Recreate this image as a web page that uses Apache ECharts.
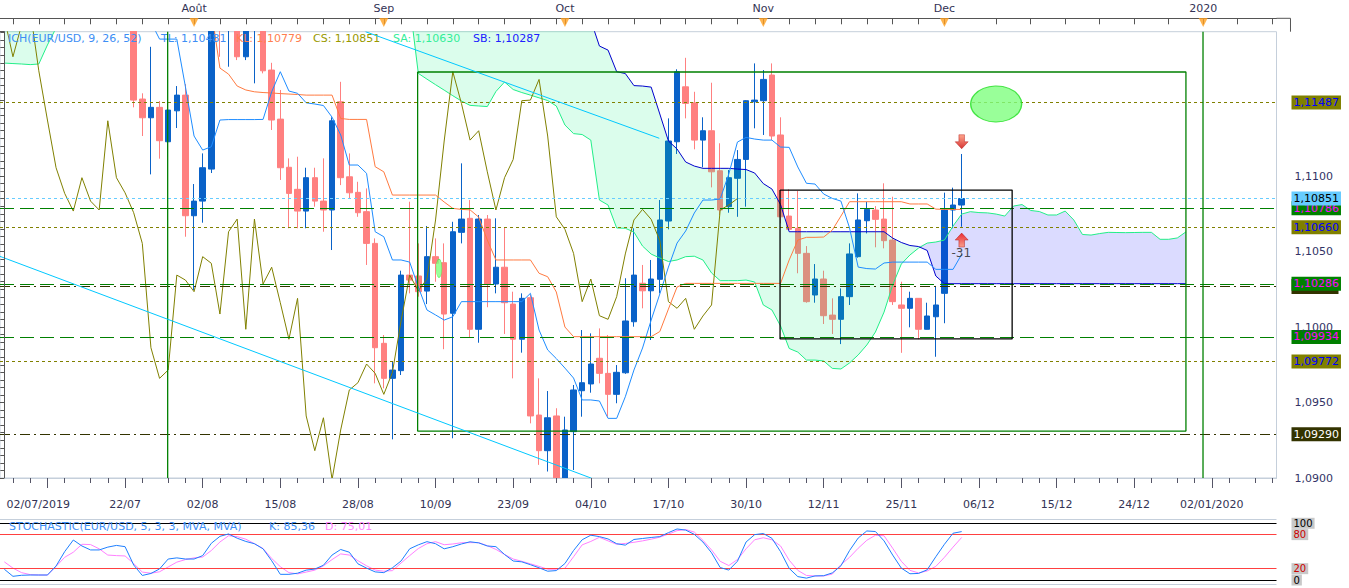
<!DOCTYPE html>
<html><head><meta charset="utf-8">
<script src="https://cdn.jsdelivr.net/npm/echarts@6/dist/echarts.min.js"></script>
<style>html,body{margin:0;padding:0;background:#fff}#c{width:1349px;height:588px}</style>
</head><body><div id="c"></div>
<script>
// ---------- axis categories & labels ----------
const N = 148;
function pad(n){return (n<10?'0':'')+n;}
const categories = (function(){
  const out=[]; let t=Date.UTC(2019,6,2); const lastTrading=Date.UTC(2019,11,6);
  while(out.length<N){
    const d=new Date(t), dow=d.getUTCDay();
    if(t>lastTrading || (dow!==0 && dow!==6)) out.push(pad(d.getUTCDate())+'/'+pad(d.getUTCMonth()+1)+'/'+d.getUTCFullYear());
    t+=86400000;
  }
  return out;
})();
const tickLabels = [[0,'02/07/2019'],[14,'22/07'],[23,'02/08'],[32,'15/08'],[41,'28/08'],[50,'10/09'],[59,'23/09'],[68,'04/10'],[77,'17/10'],[86,'30/10'],[95,'12/11'],[104,'25/11'],[113,'06/12'],[122,'15/12'],[131,'24/12'],[140,'02/01/2020']];
const monthLabels = [[22,'Août'],[44,'Sep'],[65,'Oct'],[88,'Nov'],[109,'Dec'],[139,'2020']];
const priceTicks = [1.0900,1.0950,1.1000,1.1050,1.1100];

// ---------- candles (index 15 .. 111) ----------
const candleStart = 15;
const opens = [1.1205,1.1151,1.11386,1.11455,1.11227,1.11432,1.11536,1.10737,1.10834,1.11046,1.1210,1.1200,1.1205,1.1179,1.1200,1.1205,1.11702,1.11377,1.11058,1.10912,1.10768,1.10989,1.10834,1.10775,1.11492,1.10995,1.10892,1.10764,1.10554,1.09892,1.0966,1.09711,1.10344,1.10338,1.10238,1.10466,1.10426,1.10091,1.10627,1.1072,1.09985,1.10715,1.10285,1.10396,1.10152,1.09919,1.10194,1.09417,1.09181,1.09411,1.0899,1.09307,1.09578,1.09623,1.09793,1.09693,1.09554,1.09697,1.10035,1.1029,1.1024,1.10316,1.10702,1.11227,1.11591,1.11485,1.11238,1.113,1.11035,1.10797,1.10985,1.1111,1.11492,1.11499,1.11669,1.11272,1.10735,1.10654,1.10488,1.10212,1.10318,1.10079,1.10051,1.10201,1.10466,1.10704,1.10775,1.10715,1.10576,1.10146,1.10124,1.1019,1.09985,1.10068,1.10223,1.10775,1.10808];
const highs = [1.1215,1.11548,1.11856,1.11497,1.115,1.11596,1.11609,1.10947,1.1115,1.1215,1.1225,1.1215,1.1215,1.121,1.1215,1.1215,1.1175,1.1157,1.11117,1.11128,1.11055,1.11055,1.11117,1.11389,1.11624,1.1115,1.10962,1.10918,1.10587,1.09947,1.0977,1.10373,1.1083,1.10554,1.10669,1.10587,1.10554,1.10697,1.11084,1.10841,1.10742,1.10742,1.1072,1.1066,1.10234,1.10223,1.10212,1.0966,1.09576,1.09462,1.09406,1.09616,1.0998,1.09958,1.09991,1.09947,1.09748,1.10323,1.10654,1.10411,1.10444,1.10841,1.11382,1.11707,1.11783,1.11558,1.11389,1.11618,1.11217,1.1104,1.11172,1.11503,1.11746,1.11702,1.11746,1.11389,1.10912,1.10901,1.10536,1.10417,1.10373,1.1019,1.10256,1.10554,1.10885,1.1083,1.10801,1.10952,1.10863,1.103,1.10234,1.10192,1.10161,1.10272,1.1089,1.10923,1.11146];
const lows = [1.11455,1.11265,1.11011,1.11115,1.11128,1.11318,1.10598,1.10245,1.10691,1.1102,1.1179,1.11724,1.11768,1.11768,1.11614,1.1168,1.11305,1.10974,1.10654,1.10654,1.10654,1.10797,1.10631,1.1051,1.1094,1.10852,1.1073,1.10411,1.09627,1.09594,1.09256,1.09682,1.10223,1.10201,1.10152,1.103,1.09853,1.09263,1.10554,1.09932,1.09896,1.10131,1.10223,1.09954,1.0966,1.0983,1.09362,1.09087,1.09043,1.0880,1.0887,1.09053,1.09406,1.09565,1.09627,1.09406,1.09495,1.0969,1.10002,1.10124,1.09914,1.10223,1.10647,1.11146,1.11382,1.11177,1.11058,1.10925,1.10742,1.10757,1.1073,1.10797,1.11316,1.11272,1.11238,1.10687,1.10642,1.10356,1.10161,1.10161,1.1002,1.09954,1.09887,1.10146,1.10459,1.1062,1.10528,1.10521,1.10146,1.09829,1.09998,1.09919,1.09984,1.09803,1.10025,1.10654,1.10664];
const closes = [1.11503,1.11386,1.11455,1.11234,1.11437,1.11536,1.10737,1.10834,1.11055,1.1205,1.12,1.1205,1.1179,1.12,1.121,1.11697,1.11371,1.11055,1.10885,1.10768,1.10989,1.10834,1.10775,1.11366,1.10989,1.10889,1.10757,1.10554,1.09863,1.0966,1.09715,1.10344,1.10311,1.10234,1.10466,1.10422,1.10086,1.10631,1.10715,1.09985,1.10715,1.10285,1.10396,1.10161,1.09919,1.1019,1.09411,1.09181,1.09399,1.0899,1.09318,1.09583,1.09631,1.09755,1.09693,1.09554,1.097,1.1004,1.10344,1.1024,1.10318,1.10709,1.11232,1.11691,1.11481,1.11238,1.113,1.11028,1.10775,1.10989,1.1111,1.11499,1.11503,1.1164,1.11265,1.1073,1.10647,1.10488,1.10168,1.10318,1.10075,1.10051,1.10201,1.10484,1.10709,1.10779,1.10713,1.10572,1.10168,1.10124,1.1019,1.09985,1.10073,1.10146,1.10775,1.10808,1.10851];

// ---------- Ichimoku lines ----------
const tenkan = [null,null,null,null,null,null,null,null,null,null,
 null,null,null,null,null,null,null,
 1.1202,1.11907,1.11907,1.11907,1.11591,1.11265,1.11172,1.11194,1.11371,1.11374,1.11374,1.11374,1.11374,1.11375,
 1.11558,1.11691,1.11563,1.11548,1.11485,1.11477,1.11467,1.1139,1.11272,1.11073,
 1.11073,1.11018,1.10631,1.10598,1.10444,1.10444,1.1043,1.10265,1.10113,1.1008,
 1.10046,1.10068,1.10168,1.10168,1.10168,1.10168,1.10168,1.10168,1.10168,1.10168,
 1.10223,1.0998,1.09848,1.09791,1.09728,1.09662,1.09517,1.09517,1.0951,1.09395,
 1.09395,1.09538,1.09715,1.09861,1.10046,1.10219,1.10397,1.10556,1.10636,1.10755,
 1.10841,1.10841,1.10848,1.11013,1.11225,1.11256,1.11245,1.11238,1.11238,1.11192,
 1.1119,1.1106,1.10952,1.10947,1.10881,1.10852,1.10834,1.10656,1.10397,1.10387,
 1.10384,1.10424,1.1043,1.1043,1.1043,1.1043,1.1043,1.10382,1.10382,1.10382,1.10481];
const kijun = [null,null,null,null,null,null,null,null,null,null,
 null,null,null,null,null,null,null,null,null,null,
 null,null,null,null,
 1.121,1.11715,1.11675,1.11596,1.1157,1.11558,1.11553,1.1155,1.11546,1.11543,
 1.1154,1.11536,1.11536,1.11536,1.11536,1.11381,1.11375,1.11375,1.11375,1.11062,
 1.11028,1.10874,1.10874,1.10874,1.10874,1.10874,1.10874,1.10828,1.10786,1.10779,
 1.10776,1.10728,1.10576,1.10444,1.10444,1.10444,1.10444,1.10444,1.10356,1.10333,
 1.10232,1.1,1.09936,1.09936,1.09936,1.09936,1.09936,1.09936,1.09936,1.09936,
 1.09936,1.09936,1.0997,1.10119,1.10265,1.10289,1.10289,1.10289,1.10289,1.10289,
 1.10289,1.10289,1.10289,1.10289,1.10289,1.10289,1.10289,1.10444,1.10576,1.10594,
 1.10594,1.10596,1.10642,1.10735,1.1083,1.1083,1.1083,1.1083,1.1083,1.1083,
 1.1083,1.10815,1.10815,1.10815,1.10781,1.10779,1.10779,1.10779];
const senkouA = [1.11748,1.11745,1.11742,1.11738,1.11742,1.11868,1.1198,
 1.1212,1.1212,1.1212,1.1212,1.1212,1.1212,1.1212,1.1212,1.1212,1.1212,
 1.1212,1.1212,1.1212,1.1212,1.1212,1.1212,1.1212,1.1212,1.1212,1.1212,
 1.1212,1.1212,1.1212,1.1212,1.1212,1.1212,1.1212,1.1212,1.1212,1.1212,
 1.1212,1.1212,1.1212,1.1212,1.1212,1.1212,1.1212,1.1212,1.1212,1.1212,
 1.12143,1.1168,1.11642,1.11605,1.11569,1.11532,1.11497,1.11468,1.11464,1.1146,
 1.1156,1.11623,1.11573,1.11553,1.11536,1.11518,1.115,1.11464,1.11338,1.11281,
 1.11275,1.11238,1.10841,1.10808,1.10656,1.10654,1.10629,1.10536,1.10483,1.10457,
 1.10434,1.10444,1.10466,1.10469,1.10444,1.10358,1.10307,1.10307,1.10307,1.10311,
 1.10298,1.10146,1.10113,1.10007,1.09858,1.09834,1.09781,1.09781,1.09775,1.09726,
 1.09722,1.09762,1.09815,1.09881,1.09967,1.10099,1.10278,1.10417,1.10477,1.10523,
 1.10556,1.10563,1.10576,1.10669,1.10748,1.10764,1.10758,1.10756,1.10748,1.10735,
 1.10801,1.10811,1.10772,1.10765,1.10742,1.10742,1.10768,1.10709,1.10613,1.10609,
 1.10619,1.10627,1.10626,1.10625,1.10626,1.10627,1.10627,1.10581,1.10581,1.1059,1.1063];
const senkouB = [1.1235,1.1235,1.1235,1.1235,1.1235,1.1235,1.1235,1.1235,1.1235,1.1235,
 1.1235,1.1235,1.1235,1.1235,1.1235,1.1235,1.1235,1.1235,1.1235,1.1235,
 1.1235,1.1235,1.1235,1.1235,1.1235,1.1235,1.1235,1.1235,1.1235,1.1235,
 1.1235,1.1235,1.1235,1.1235,1.1235,1.1235,1.1235,1.1235,1.1235,1.1235,
 1.1235,1.1235,1.1235,1.1235,1.1235,1.1235,1.1235,1.1235,1.1235,1.1235,
 1.1235,1.1235,1.1235,1.1235,1.1235,1.1235,1.1235,1.1235,1.1235,1.1235,
 1.1235,1.1235,1.1235,1.1235,1.1235,1.1235,1.1235,1.1235,
 1.12032,1.11861,1.11834,1.11691,1.11679,1.11599,1.11596,1.11589,1.11411,1.11232,
 1.11179,1.11093,1.11066,1.11051,1.11051,1.11051,1.11051,1.11046,1.11043,1.1102,
 1.1095,1.10914,1.10811,
 1.10631,1.10631,1.10631,1.10631,1.10631,1.10631,1.10631,1.10631,1.10631,1.10631,
 1.10631,1.10631,1.10589,1.1056,1.1054,1.10533,1.10507,1.10338,
 1.10287,1.10287,1.10287,1.10287,1.10287,1.10287,1.10287,1.10287,1.10287,1.10287,
 1.10287,1.10287,1.10287,1.10287,1.10287,1.10287,1.10287,1.10287,1.10287,1.10287,
 1.10287,1.10287,1.10287,1.10287,1.10287,1.10287,1.10287,1.10287,1.10287];
const chikouShift = 26;

// ---------- stochastic ----------
const stochK = [19,6.5,8.3,8.8,8.8,8.8,24.6,50,70.5,60,53,53,58,61,58.8,26.5,8,11.5,19.5,37,39,37,37,43,64.7,77,81.2,73.7,68,64,55,34,10,10,12,17.4,19.3,26,44,53.8,49,28.5,21,14.3,13,21.5,33.5,55,62,67.6,64,55,58.7,63.5,67.4,65.5,60,58.8,45,33.5,32,27,21.5,15.5,16.6,29,52,71,79,76.5,72.4,64,61.5,71.5,73.2,75,76.5,83.5,90,88,80.5,67,48,22,17.5,33,67,80,82,73.5,50,20.5,6,3.3,7.2,7.6,12.5,25,52,74,86.5,85.5,69,44,21,11,11.6,18,41,63,82.5,85.36];
const stochD = [32,21,13,9.5,8.8,8.8,24,40,49,63,62.5,55,44,43,42.4,29,14,12,14.5,23,31.5,36,39,40.5,52,67,78,76.5,72,64,55.5,38,23.5,13,10.8,14,17.4,25,36,46,44,34,25,17.5,15.5,16.5,30,43,55.5,64,67.6,62.2,63.5,65.7,65.9,65.9,60.5,54,45,37,33,28.5,24,19,19,20.6,41,62,68,75.3,69,63,64.5,66.5,69,72,75.5,81,87,89,84.5,70,53,33,25.5,36,55,71,74.5,71,60,35,17,8,7.1,7.1,10.5,27,40,56,70,79,78,56,33,17,12.5,16,24,40,58,75.01];
const stochLevels = [100,80,20,0];

// ---------- drawn objects (x in bar index units, y in price) ----------
const levelValues = [1.11487,1.10786,1.10851,1.10660,1.10268,1.10286,1.09934,1.09772,1.09290];
const levelKinds  = ['olive','green','cur','olive','dark','green','green','olive','dark'];
const levelHiddenTag = [false,false,false,false,true,false,false,false,false];
const greenBox = [[47.92,1.11689],[137.0,1.09311]];
const blackBox = [[89.94,1.10907],[116.85,1.09921]];
const vLines = [18.94,138.98];
const trend1 = [[-0.5,1.10468],[68.1,1.08998]];
const trend2 = [[41.88,1.11956],[75.94,1.1125]];
const ellipseBig = [115.0,1.11477];
const ellipseSmall = [50.4,1.10389];
const arrowDown = [111,1.11227];
const arrowUp = [111,1.10576];
const signalText = [110.96,1.1049,'-31'];

// ---------- build ----------
const FONT = 'DejaVu Sans';
const YMIN = 1.09, YMAX = 1.11956;
const P = 8.661, GL = -5.33, GW = N*P;
const GTOP = 31.7, GH = 446.3, GRIGHT = GL + GW;
const candleData = categories.map((c,i)=>{
  const k=i-candleStart;
  if(k<0||k>=opens.length) return '-';
  return [opens[k],closes[k],lows[k],highs[k]];
});
const chikou = categories.map((c,i)=>{const k=i+chikouShift-candleStart; return (k>=0&&k<closes.length)?closes[k]:null;});
const pick=(arr)=>categories.map((c,i)=> (arr[i]===undefined||arr[i]===null)?'-':arr[i]);
const cloudBase=[],cloudGreen=[],cloudPurple=[];
for(let i=0;i<N;i++){
  if(i<senkouA.length){const a=senkouA[i],b=senkouB[i];cloudBase.push(Math.min(a,b));cloudGreen.push(Math.max(b-a,0));cloudPurple.push(Math.max(a-b,0));}
  else{cloudBase.push('-');cloudGreen.push('-');cloudPurple.push('-');}
}
const labelMap=new Map(tickLabels), monthMap=new Map(monthLabels);
const mod9=(i)=>((i-5)%9+9)%9;
const topTicks=new Set(monthLabels.map(m=>m[0]));
for(let i=0;i<N;i++){ if(i<=111 && i%3===1) topTicks.add(i); if(i>111 && i%4===3) topTicks.add(i); }
const fmt5=(v)=>v.toFixed(5).replace('.',',');
const levelStyle={
  olive:{c:'#808000',t:[3,3],bg:'#808000',fg:'#0000ff'},
  cur:{c:'#66ccff',t:[3,3],bg:'#66ccff',fg:'#000000'},
  green:{c:'#008000',t:[14,6],bg:'#008000',fg:'#ff00ff'},
  dark:{c:'#333300',t:[10,4,2,4],bg:'#333300',fg:'#ffffff'}
};
const levelData=levelValues.map((v,k)=>{const s=levelStyle[levelKinds[k]];
  const label = levelHiddenTag[k]
    ? {show:true,position:'end',distance:15,formatter:'{s|}',rich:{s:{width:47,height:15,backgroundColor:s.bg}},padding:0}
    : {show:true,position:'end',distance:15,formatter:fmt5(v),color:s.fg,backgroundColor:s.bg,padding:[2,2,1,2],fontSize:11,fontFamily:FONT};
  return {yAxis:v,lineStyle:{color:s.c,type:s.t,width:1},label:label};});
const rectPts=(b)=>{const [[x1,y1],[x2,y2]]=b;return [[x1,y1],[x2,y1],[x2,y2],[x1,y2],[x1,y1]];};
const lineS=(data,color,extra)=>Object.assign({type:'line',xAxisIndex:1,yAxisIndex:0,data:data,symbol:'none',silent:true,z:6,clip:true,
  lineStyle:{color:color,width:1}},extra||{});
const stochLevelStyle={100:{c:'#000000',fg:'#000000'},80:{c:'#ff4040',fg:'#cc0000'},20:{c:'#ff4040',fg:'#cc0000'},0:{c:'#000000',fg:'#000000'}};
const lineBase={type:'line',xAxisIndex:0,yAxisIndex:0,symbol:'none',silent:true,clip:true};

const option={
  animation:false,
  backgroundColor:'#ffffff',
  textStyle:{fontFamily:FONT},
  // white masks hide the parts of candle boxes that lie outside the price pane
  graphic:[
    {type:'rect',silent:true,z:5,shape:{x:-10,y:0,width:GRIGHT+10,height:GTOP-0.6},style:{fill:'#ffffff'}},
    {type:'rect',silent:true,z:5,shape:{x:-10,y:GTOP+GH+0.6,width:GRIGHT+10,height:40},style:{fill:'#ffffff'}},
    {type:'polyline',silent:true,z:11,shape:{points:[[GRIGHT,GTOP-13.4],[GRIGHT+14,GTOP-13.4],[GRIGHT+14,GTOP]]},style:{stroke:'#555555',lineWidth:1,fill:null}}
  ],
  title:[
    {text:'ICH(EUR/USD, 9, 26, 52)',left:8,top:33,padding:0,textStyle:{color:'#3d8ef5',fontSize:11,fontWeight:'normal',fontFamily:FONT}},
    {text:'TL: 1,10481',left:161,top:33,padding:0,textStyle:{color:'#3d8ef5',fontSize:11,fontWeight:'normal',fontFamily:FONT}},
    {text:'KL: 1,10779',left:236,top:33,padding:0,textStyle:{color:'#ff7f50',fontSize:11,fontWeight:'normal',fontFamily:FONT}},
    {text:'CS: 1,10851',left:313,top:33,padding:0,textStyle:{color:'#999900',fontSize:11,fontWeight:'normal',fontFamily:FONT}},
    {text:'SA: 1,10630',left:393,top:33,padding:0,textStyle:{color:'#33ee99',fontSize:11,fontWeight:'normal',fontFamily:FONT}},
    {text:'SB: 1,10287',left:473,top:33,padding:0,textStyle:{color:'#2020ff',fontSize:11,fontWeight:'normal',fontFamily:FONT}},
    {text:'STOCHASTIC(EUR/USD, 5, 3, 3, MVA, MVA)',left:9,top:521,padding:0,textStyle:{color:'#3d8ef5',fontSize:11,fontWeight:'normal',fontFamily:FONT}},
    {text:'K: 85,36',left:269,top:521,padding:0,textStyle:{color:'#3d8ef5',fontSize:11,fontWeight:'normal',fontFamily:FONT}},
    {text:'D: 75,01',left:325,top:521,padding:0,textStyle:{color:'#ff88ff',fontSize:11,fontWeight:'normal',fontFamily:FONT}}
  ],
  grid:[
    {left:GL,width:GW,top:GTOP,height:GH,show:true,borderColor:'#c5cfdb',borderWidth:1,backgroundColor:'#ffffff'},
    {left:GL,width:GW,top:519.5,height:64.5,show:false},
    {left:GL,width:GW,top:18.5,height:13.2,show:false}
  ],
  xAxis:[
    {type:'category',gridIndex:0,data:categories,position:'bottom',z:10,
      axisLine:{show:true,onZero:false,lineStyle:{color:'#c5cfdb'}},
      axisTick:{show:true,alignWithLabel:true,length:10,interval:(i)=>i>=5&&mod9(i)===0,lineStyle:{color:'#555566'}},
      axisLabel:{show:true,interval:(i)=>labelMap.has(i),formatter:(v,i)=> i===0?'{f|'+labelMap.get(i)+'}':labelMap.get(i),margin:21,color:'#333355',fontSize:11,fontFamily:FONT,
        rich:{f:{padding:[0,0,0,68],color:'#333355',fontSize:11,fontFamily:FONT}}},
      splitLine:{show:false}},
    {type:'value',gridIndex:0,min:-0.5,max:N-0.5,show:false},
    {type:'category',gridIndex:0,data:categories,position:'top',offset:13.4,z:10,
      axisLine:{show:true,onZero:false,lineStyle:{color:'#555555'}},
      axisTick:{show:true,inside:true,alignWithLabel:true,length:6,interval:(i)=>topTicks.has(i),lineStyle:{color:'#555555'}},
      axisLabel:{show:true,interval:(i)=>monthMap.has(i),formatter:(v,i)=>monthMap.get(i),margin:4,color:'#333355',fontSize:11,fontFamily:FONT},
      splitLine:{show:false}},
    {type:'category',gridIndex:0,data:categories,position:'bottom',z:10,
      axisLine:{show:false,onZero:false},
      axisTick:{show:true,alignWithLabel:true,length:5,interval:(i)=>[2,5,7].indexOf(mod9(i))>=0,lineStyle:{color:'#555566'}},
      axisLabel:{show:false},splitLine:{show:false}},
    {type:'category',gridIndex:2,data:categories,show:false},
    {type:'category',gridIndex:1,data:categories,show:false}
  ],
  yAxis:[
    {type:'value',gridIndex:0,position:'right',offset:14,min:YMIN,max:YMAX,interval:0.005,scale:true,z:10,
      axisLine:{show:true,lineStyle:{color:'#555555'}},
      axisTick:{show:true,inside:true,length:14,lineStyle:{color:'#555555'}},
      minorTick:{show:true,splitNumber:10,length:4,lineStyle:{color:'#555555'}},
      axisLabel:{show:true,margin:4,color:'#333366',fontSize:11,fontFamily:FONT,showMaxLabel:false,
        formatter:(v)=>{for(const t of priceTicks){if(Math.abs(v-t)<1e-7) return t.toFixed(4).replace('.',',');} return '';}},
      splitLine:{show:false},minorSplitLine:{show:false}},
    {type:'value',gridIndex:2,min:0,max:1,show:false},
    {type:'value',gridIndex:1,min:-7.05,max:106.7,show:false}
  ],
  series:[
    {type:'candlestick',xAxisIndex:0,yAxisIndex:0,data:candleData,barWidth:6,z:2,silent:true,clip:true,
      itemStyle:{color:'#0a62c8',color0:'#ff8080',borderColor:'#0a62c8',borderColor0:'#ff8080',borderWidth:1}},
    Object.assign({},lineBase,{data:cloudBase,stack:'cloud',z:3,lineStyle:{opacity:0}}),
    Object.assign({},lineBase,{data:cloudGreen,stack:'cloud',z:3,lineStyle:{opacity:0},areaStyle:{color:'rgba(0,240,120,0.2)'}}),
    Object.assign({},lineBase,{data:cloudPurple,stack:'cloud',z:3,lineStyle:{opacity:0},areaStyle:{color:'rgba(0,0,255,0.2)'}}),
    Object.assign({},lineBase,{data:pick(senkouA),z:4,lineStyle:{color:'#22ee88',width:1}}),
    Object.assign({},lineBase,{data:pick(senkouB),z:4,lineStyle:{color:'#0000cc',width:1}}),
    Object.assign({},lineBase,{data:pick(chikou),z:4,lineStyle:{color:'#808000',width:1}}),
    Object.assign({},lineBase,{data:pick(kijun),z:4,lineStyle:{color:'#ff7a40',width:1}}),
    Object.assign({},lineBase,{data:pick(tenkan),z:4,lineStyle:{color:'#1e8cff',width:1}}),
    // horizontal levels with price tags
    {type:'line',xAxisIndex:1,yAxisIndex:0,data:[],silent:true,z:6,
      markLine:{silent:true,symbol:['none','none'],animation:false,precision:6,data:levelData}},
    lineS(rectPts(greenBox),'#008000',{lineStyle:{color:'#008000',width:1.3}}),
    lineS(rectPts(blackBox),'#000000',{lineStyle:{color:'#000000',width:1.3}}),
    lineS([[vLines[0],YMIN],[vLines[0],YMAX]],'#008000',{lineStyle:{color:'#008000',width:1.3}}),
    lineS([[vLines[1],YMIN],[vLines[1],YMAX]],'#008000',{lineStyle:{color:'#008000',width:1.3}}),
    lineS(trend1,'#00c8ff'),
    lineS(trend2,'#00c8ff'),
    {type:'scatter',xAxisIndex:1,yAxisIndex:0,silent:true,z:7,data:[ellipseBig],symbol:'circle',symbolSize:[51,36],
      itemStyle:{color:'#80ff80',borderColor:'#22dd22',borderWidth:1.2}},
    {type:'scatter',xAxisIndex:1,yAxisIndex:0,silent:true,z:7,data:[ellipseSmall],symbol:'circle',symbolSize:[6,18],
      itemStyle:{color:'#80ff80',borderColor:'#44ee44',borderWidth:0.6}},
    {type:'scatter',xAxisIndex:1,yAxisIndex:0,silent:true,z:7,data:[arrowDown],symbol:'path://M4,0 L10,0 L10,7 L14,7 L7,14 L0,7 L4,7 Z',symbolSize:[13,14],
      itemStyle:{color:new echarts.graphic.LinearGradient(0,0,0,1,[{offset:0,color:'#ff9070'},{offset:1,color:'#cc0000'}]),borderColor:'#aa0000',borderWidth:0.5}},
    {type:'scatter',xAxisIndex:1,yAxisIndex:0,silent:true,z:7,data:[arrowUp],symbol:'path://M7,0 L14,7 L10,7 L10,14 L4,14 L4,7 L0,7 Z',symbolSize:[13,14],
      itemStyle:{color:new echarts.graphic.LinearGradient(0,0,0,1,[{offset:0,color:'#ee0000'},{offset:1,color:'#ff9070'}]),borderColor:'#aa0000',borderWidth:0.5}},
    {type:'scatter',xAxisIndex:1,yAxisIndex:0,silent:true,z:7,data:[[signalText[0],signalText[1]]],symbolSize:0,
      label:{show:true,position:'inside',formatter:signalText[2],color:'#222222',fontSize:12,fontFamily:FONT}},
    // month triangles on top axis
    {type:'scatter',xAxisIndex:4,yAxisIndex:1,silent:true,z:12,data:monthLabels.map(m=>[m[0],0.7]),symbol:'triangle',symbolRotate:180,symbolSize:[9,9],
      itemStyle:{color:'#ffa020'}},
    // stochastic
    {type:'line',xAxisIndex:5,yAxisIndex:2,data:stochD,symbol:'none',silent:true,z:4,lineStyle:{color:'#ff80ff',width:1}},
    {type:'line',xAxisIndex:5,yAxisIndex:2,data:stochK,symbol:'none',silent:true,z:5,lineStyle:{color:'#1e7fff',width:1},
      markLine:{silent:true,symbol:['none','none'],animation:false,precision:3,
        data:stochLevels.map(v=>({yAxis:v,lineStyle:{color:stochLevelStyle[v].c,type:'solid',width:1.2},
          label:{show:true,position:'end',distance:15,formatter:String(v),color:stochLevelStyle[v].fg,backgroundColor:'#c8c8c8',padding:[1,2,0,2],fontSize:10,fontFamily:FONT}}))}},
    {type:'line',xAxisIndex:5,yAxisIndex:2,data:[],silent:true,
      markLine:{silent:true,symbol:['none','none'],animation:false,precision:3,label:{show:false},
        data:[{yAxis:106.6,lineStyle:{color:'#c5cfdb',type:'solid',width:1}},{yAxis:-6.9,lineStyle:{color:'#c5cfdb',type:'solid',width:1}}]}}
  ]
};
const chart=echarts.init(document.getElementById('c'),null,{renderer:'svg',width:1349,height:588});
chart.setOption(option);
</script></body></html>
